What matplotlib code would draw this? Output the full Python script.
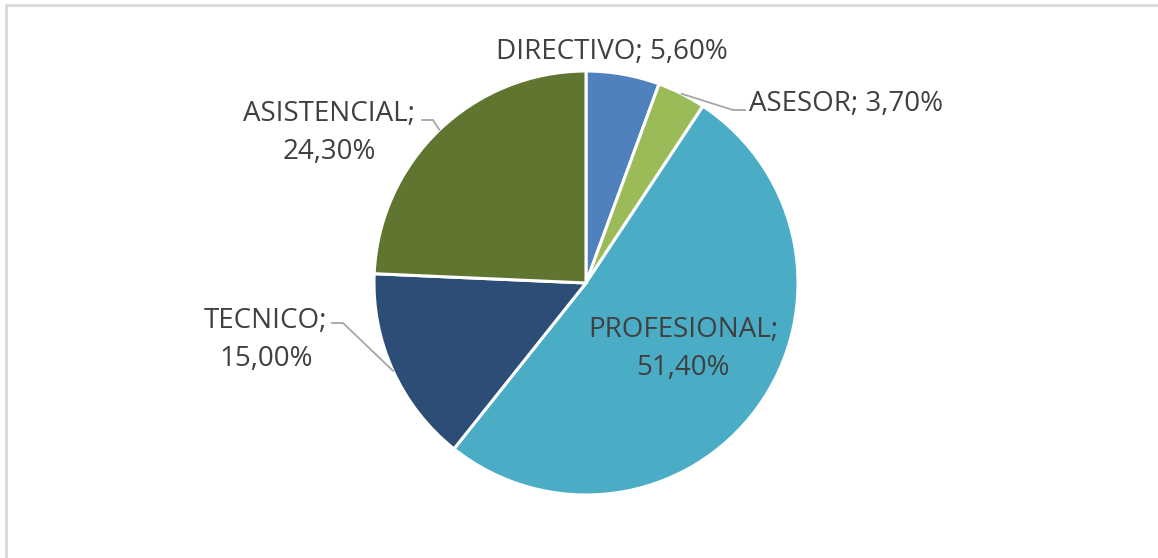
import matplotlib.pyplot as plt
import numpy as np

categorias = ['DIRECTIVO', 'ASESOR', 'PROFESIONAL', 'TECNICO', 'ASISTENCIAL']
porcentajes = [5.60, 3.70, 51.40, 15.00, 24.30]
colores = ['#4F81BD', '#9BBB59', '#4BACC6', '#2C4D75', '#5F7530']

W, H = 1158, 558
cx, cy, R = 586, H - 283, 212

fig = plt.figure(figsize=(W / 100, H / 100), dpi=100)
ax = fig.add_axes([0, 0, 1, 1])

# marco gris del grafico
ax.plot([6, 6, W + 5], [-5, H - 5, H - 5], color='#D9D9D9', lw=2, clip_on=False)

wedges, _ = ax.pie(porcentajes, colors=colores, startangle=90, counterclock=False,
                   center=(cx, cy), radius=R, frame=True,
                   wedgeprops=dict(edgecolor='white', linewidth=2.2))
ax.set_xlim(0, W)
ax.set_ylim(0, H)
ax.set_aspect('equal')
ax.axis('off')

fmt = lambda v: f'{v:.2f}'.replace('.', ',') + '%'
txt = dict(color='#404040', fontsize=20, family='Open Sans', ha='center', va='center',
           linespacing=1.45)

def borde(i):
    w = wedges[i]
    a = np.deg2rad((w.theta1 + w.theta2) / 2)
    return cx + R * np.cos(a), cy + R * np.sin(a)

# DIRECTIVO
ax.text(612, H - 52, f'{categorias[0]}; {fmt(porcentajes[0])}', **txt)
# ASESOR
ax.text(846, H - 104, f'{categorias[1]}; {fmt(porcentajes[1])}', **txt)
x0, y0 = borde(1)
ax.plot([x0, 733, 745], [y0, H - 110, H - 110], color='#A6A6A6', lw=1.3)
# PROFESIONAL
ax.text(683, H - 349, f'{categorias[2]};\n{fmt(porcentajes[2])}', **txt)
# TECNICO
ax.text(266, H - 340, f'{categorias[3]};\n{fmt(porcentajes[3])}', **txt)
x0, y0 = borde(3)
ax.plot([332, 343, x0], [H - 323, H - 323, y0], color='#A6A6A6', lw=1.3)
# ASISTENCIAL
ax.text(329, H - 133, f'{categorias[4]};\n{fmt(porcentajes[4])}', **txt)
x0, y0 = borde(4)
ax.plot([422, 433, x0], [H - 120, H - 120, y0], color='#A6A6A6', lw=1.3)

fig.savefig('out.png', dpi=100, facecolor='white')
